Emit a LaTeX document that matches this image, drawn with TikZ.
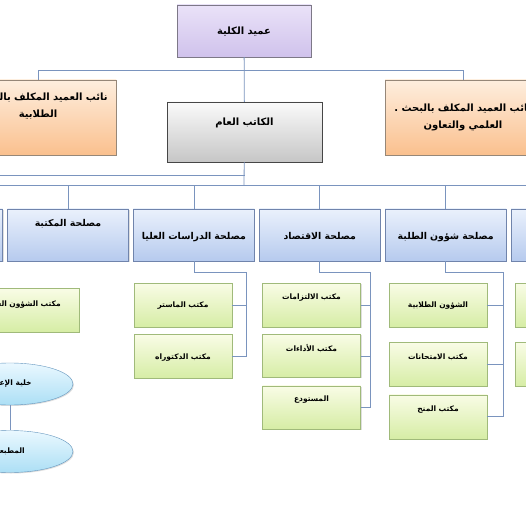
\documentclass[tikz,border=0pt]{standalone}
\usepackage{fontspec}
\newfontfamily\arabicfont[Script=Arabic]{DejaVu Sans}
\TeXXeTstate=1
\usetikzlibrary{positioning,shadows,shapes.geometric}
\newcommand{\artxt}[1]{\beginR #1\endR}
\definecolor{deanTop}{RGB}{234,226,248}
\definecolor{deanBot}{RGB}{208,194,236}
\definecolor{deanLine}{RGB}{125,120,135}
\definecolor{viceTop}{RGB}{254,238,222}
\definecolor{viceBot}{RGB}{250,192,142}
\definecolor{viceLine}{RGB}{150,135,120}
\definecolor{secrTop}{RGB}{250,250,250}
\definecolor{secrBot}{RGB}{198,198,198}
\definecolor{secrLine}{RGB}{70,70,70}
\definecolor{deptTop}{RGB}{234,241,252}
\definecolor{deptBot}{RGB}{182,202,238}
\definecolor{deptLine}{RGB}{112,132,172}
\definecolor{offTop}{RGB}{249,252,230}
\definecolor{offBot}{RGB}{214,237,165}
\definecolor{offLine}{RGB}{160,186,122}
\definecolor{cellTop}{RGB}{234,248,255}
\definecolor{cellBot}{RGB}{172,223,245}
\definecolor{cellLine}{RGB}{100,150,190}
\definecolor{linkc}{RGB}{122,148,190}
\tikzset{
  box/.style={draw,inner sep=0pt,align=center,font=\arabicfont\bfseries\fontsize{7.5}{16}\selectfont,
              drop shadow={opacity=.25,shadow xshift=1pt,shadow yshift=-1pt}},
  txtat/.style 2 args={text height=#1,text depth=#2},
  dean/.style={box,top color=deanTop,bottom color=deanBot,draw=deanLine,text width=134pt,
               font=\arabicfont\bfseries\fontsize{10}{12}\selectfont},
  vice/.style={box,top color=viceTop,bottom color=viceBot,draw=viceLine,text width=156pt,
               font=\arabicfont\bfseries\fontsize{10}{17}\selectfont},
  secr/.style={box,top color=secrTop,bottom color=secrBot,draw=secrLine,text width=155pt,
               font=\arabicfont\bfseries\fontsize{10}{12}\selectfont},
  dept/.style={box,top color=deptTop,bottom color=deptBot,draw=deptLine,text width=121pt,
               font=\arabicfont\bfseries\fontsize{9.4}{12}\selectfont},
  office/.style={box,top color=offTop,bottom color=offBot,draw=offLine,text width=98pt},
  cell/.style={box,ellipse,top color=cellTop,bottom color=cellBot,draw=cellLine,
               minimum width=126pt,minimum height=42pt},
  link/.style={draw=linkc,line width=.8pt},
}
\begin{document}
\begin{tikzpicture}[x=1pt,y=-1pt]
  \useasboundingbox (0,0) rectangle (526,526);
  \clip (0,0) rectangle (526,526);
  \fill[white] (0,0) rectangle (526,526);

  % management
  \node[dean,txtat={30pt}{22pt}] (dean) at (244,31) {\artxt{عميد الكلية}};
  \node[vice,txtat={21pt}{54pt}] (vl) at (38,117.5) {\artxt{نائب العميد المكلف بالشؤون}\\\artxt{الطلابية}};
  \node[vice,txtat={32pt}{43pt}] (vr) at (463,117.5) {\artxt{نائب العميد المكلف بالبحث .}\\\artxt{العلمي والتعاون}};
  \node[secr,txtat={24pt}{36pt}] (sg) at (244.5,132) {\artxt{الكاتب العام}};

  % services
  \node[dept,txtat={17pt}{35pt}] (d1) at (68,235) {\artxt{مصلحة المكتبة}};
  \node[dept,txtat={30pt}{22pt},left=4.5pt of d1] (dL) {};
  \node[dept,txtat={30pt}{22pt},right=4.5pt of d1] (d2) {\artxt{مصلحة الدراسات العليا}};
  \node[dept,txtat={30pt}{22pt},right=4.5pt of d2] (d3) {\artxt{مصلحة الاقتصاد}};
  \node[dept,txtat={30pt}{22pt},right=4.5pt of d3] (d4) {\artxt{مصلحة شؤون الطلبة}};
  \node[dept,txtat={30pt}{22pt},right=4.5pt of d4] (dR) {\artxt{مصلحة المستخدمين}};

  % offices
  \node[office,txtat={18pt}{26pt},text width=112pt] (o11) at (23,310) {\artxt{مكتب الشؤون العامة}};
  \node[office,txtat={24pt}{20pt}] (o21) at (183,305) {\artxt{مكتب الماستر}};
  \node[office,txtat={25pt}{19pt},below=7pt of o21] (o22) {\artxt{مكتب الدكتوراه}};
  \node[office,txtat={16pt}{28pt}] (o31) at (311.5,305) {\artxt{مكتب الالتزامات}};
  \node[office,txtat={17pt}{26pt},below=7pt of o31] (o32) {\artxt{مكتب الأداءات}};
  \node[office,txtat={16pt}{27pt},below=8pt of o32] (o33) {\artxt{المستودع}};
  \node[office,txtat={24pt}{20pt}] (o41) at (438,305) {\artxt{الشؤون الطلابية}};
  \node[office,txtat={17pt}{27pt},below=15pt of o41] (o42) {\artxt{مكتب الامتحانات}};
  \node[office,txtat={17pt}{27pt},below=8pt of o42] (o43) {\artxt{مكتب المنح}};
  \node[office,txtat={24pt}{20pt}] (oR1) at (564,305) {};
  \node[office,txtat={17pt}{27pt},below=15pt of oR1] (oR2) {};

  % cells
  \node[cell] (e1) at (10,384) {\artxt{خلية الإعلام}};
  \node[cell] (e2) at (10,451.5) {\artxt{المطبعة}};

  % links
  \coordinate (topbus) at (244,70);
  \coordinate (bus) at (244,185);
  \coordinate (cellfeed) at (-40,175);
  \draw[link] (dean) -- (sg);
  \draw[link] (topbus) -| (vl);
  \draw[link] (topbus) -| (vr);
  \draw[link] (sg) -- (bus);
  \draw[link] (sg.south |- cellfeed) -- (cellfeed);
  \foreach \d in {dL,d1,d2,d3,d4,dR}
    \draw[link] (bus) -| (\d);
  \draw[link] (d2.south) -- ++(0,11) -| ([xshift=14pt]o22.east) -- (o22.east);
  \draw[link] ([xshift=14pt]o21.east) -- (o21.east);
  \draw[link] (d3.south) -- ++(0,11) -| ([xshift=10pt]o33.east) -- (o33.east);
  \foreach \o in {o31,o32}
    \draw[link] ([xshift=10pt]\o.east) -- (\o.east);
  \draw[link] (d4.south) -- ++(0,11) -| ([xshift=16pt]o43.east) -- (o43.east);
  \foreach \o in {o41,o42}
    \draw[link] ([xshift=16pt]\o.east) -- (\o.east);
  \draw[link] (dR.south) -- ++(0,11) -| ([xshift=16pt]oR2.east) -- (oR2.east);
  \draw[link] ([xshift=16pt]oR1.east) -- (oR1.east);
  \draw[link] (e1) -- (e2);
\end{tikzpicture}
\end{document}
